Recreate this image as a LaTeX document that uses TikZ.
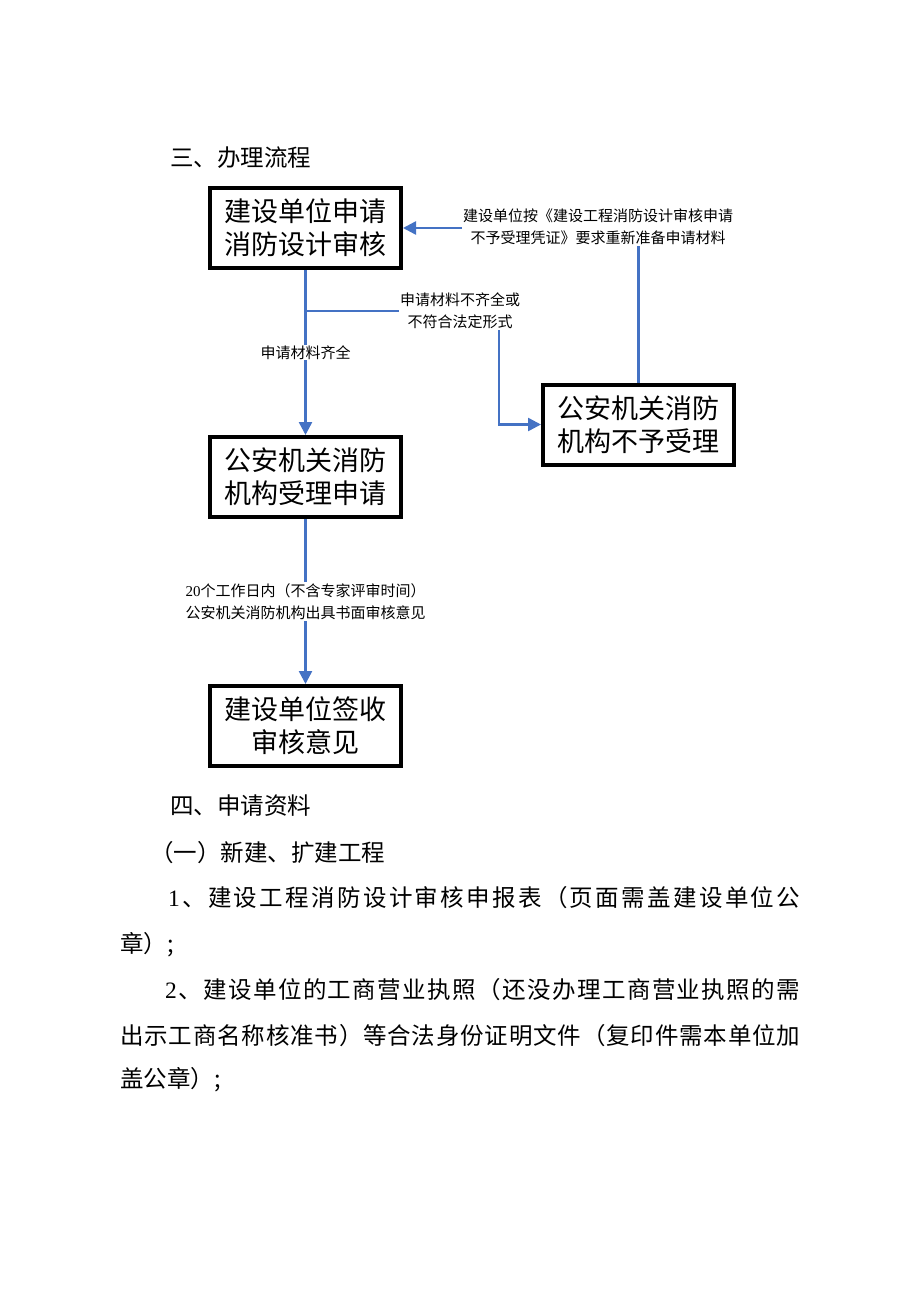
\documentclass[tikz,border=0pt]{standalone}
\usepackage{fontspec}
\setmainfont{Liberation Serif}
\newfontfamily\cjk{Noto Sans CJK SC}
\usetikzlibrary{arrows.meta,positioning}
\definecolor{flowblue}{RGB}{68,114,196}
% spread the characters of one line over a given width
\ExplSyntaxOn
\NewDocumentCommand\spreadline{m m}{\hbox~to~#1{\tl_map_inline:nn{#2}{{##1}\hfil}\unskip}}
\ExplSyntaxOff

\begin{document}
\begin{tikzpicture}[x=1pt,y=-1pt]
\tikzset{BoxStyle/.style =
	{draw,
		line width = 4pt,
		minimum width = 191pt,
		minimum height = 80pt,
		inner sep = 0pt,
		align = center,
		font = \cjk\fontsize{27pt}{33pt}\selectfont},
	NoteStyle/.style =
	{fill = white,
		inner sep = 1pt,
		align = center,
		font = \cjk\fontsize{15pt}{22pt}\selectfont},
	FlowStyle/.style =
	{draw = flowblue,
		line width = 2.5pt,
		-{Triangle[length=13pt,width=13pt]}},
	LineStyle/.style =
	{anchor = west,
		inner sep = 0pt,
		font = \cjk\fontsize{23.5pt}{30pt}\selectfont}}
\useasboundingbox (0,0) rectangle (920,1302);

\node[LineStyle] (head3) at (170,158) {三、办理流程};

% boxes
\node[BoxStyle] (apply)  at (305.5,228)   {建设单位申请\\消防设计审核};
\node[BoxStyle] (accept) at (305.5,477)   {公安机关消防\\机构受理申请};
\node[BoxStyle] (sign)   at (305.5,726)   {建设单位签收\\审核意见};
\node[BoxStyle] (reject) at (638.5,424.5) {公安机关消防\\机构不予受理};

% connectors
\path (apply.south) ++(0,41) coordinate (fork);
\coordinate (bend) at (499,311);
\draw[FlowStyle] (apply.south) -- node[NoteStyle]{申请材料齐全} (accept.north);
\draw[FlowStyle] (fork) -- (bend) |- (reject.west);
\node[NoteStyle] (lack) at (460,311) {申请材料不齐全或\\不符合法定形式};
\draw[FlowStyle] (reject.north) |- (apply.east);
\node[NoteStyle] (redo) at (598,227) {建设单位按《建设工程消防设计审核申请\\不予受理凭证》要求重新准备申请材料};
\draw[FlowStyle] (accept.south) -- node[NoteStyle]{{\rmfamily 20}个工作日内（不含专家评审时间）\\公安机关消防机构出具书面审核意见} (sign.north);

% text below
\node[LineStyle] (head4) at (170,806) {四、申请资料};
\node[LineStyle] (sub1) at (150,853) {（一）新建、扩建工程};
\node[LineStyle] (item1a) at (168,898) {\spreadline{632pt}{{\rmfamily 1}、建设工程消防设计审核申报表（页面需盖建设单位公}};
\node[LineStyle] (item1b) at (120,945) {章）;};
\node[LineStyle] (item2a) at (165,990) {\spreadline{635pt}{{\rmfamily 2}、建设单位的工商营业执照（还没办理工商营业执照的需}};
\node[LineStyle] (item2b) at (120,1036) {\spreadline{680pt}{出示工商名称核准书）等合法身份证明文件（复印件需本单位加}};
\node[LineStyle] (item2c) at (120,1080) {盖公章）;};

\end{tikzpicture}
\end{document}
